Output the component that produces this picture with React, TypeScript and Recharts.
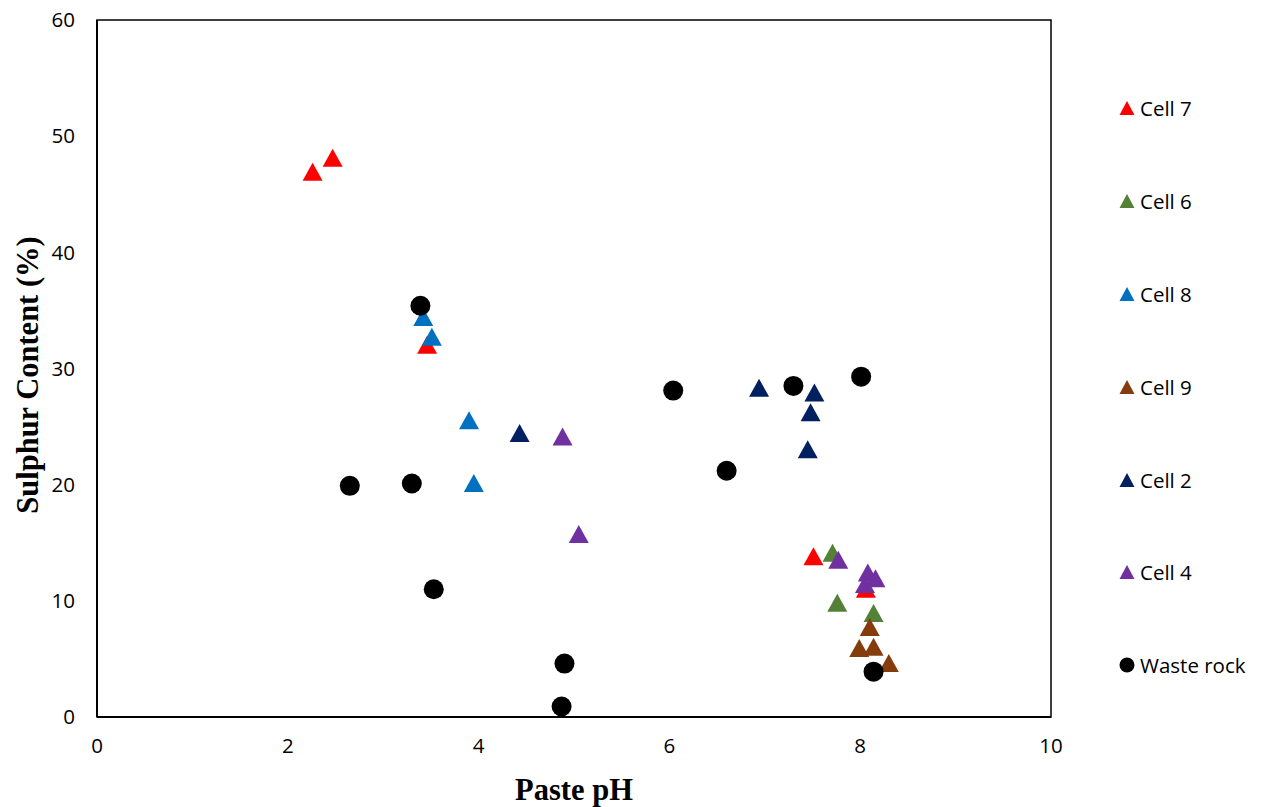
import {
  ScatterChart,
  Scatter,
  XAxis,
  YAxis,
  ReferenceArea,
} from 'recharts';

// Values (Paste pH vs Sulphur Content %)
const cell7 = [
  { x: 2.26, y: 46.9 },
  { x: 2.47, y: 48.1 },
  { x: 3.46, y: 32.0 },
  { x: 7.51, y: 13.8 },
  { x: 8.06, y: 11.0 },
];
const cell6 = [
  { x: 7.71, y: 14.1 },
  { x: 7.76, y: 9.8 },
  { x: 8.14, y: 8.9 },
];
const cell8 = [
  { x: 3.42, y: 34.4 },
  { x: 3.51, y: 32.7 },
  { x: 3.9, y: 25.5 },
  { x: 3.95, y: 20.1 },
];
const cell9 = [
  { x: 8.1, y: 7.7 },
  { x: 7.99, y: 5.9 },
  { x: 8.14, y: 6.0 },
  { x: 8.3, y: 4.6 },
];
const cell2 = [
  { x: 4.43, y: 24.4 },
  { x: 6.94, y: 28.3 },
  { x: 7.52, y: 27.9 },
  { x: 7.48, y: 26.2 },
  { x: 7.45, y: 23.0 },
];
const cell4 = [
  { x: 4.88, y: 24.1 },
  { x: 5.05, y: 15.7 },
  { x: 7.77, y: 13.5 },
  { x: 8.08, y: 12.4 },
  { x: 8.16, y: 11.9 },
  { x: 8.05, y: 11.4 },
];
const wasteRock = [
  { x: 3.39, y: 35.4 },
  { x: 2.65, y: 19.9 },
  { x: 3.3, y: 20.1 },
  { x: 3.53, y: 11.0 },
  { x: 4.9, y: 4.6 },
  { x: 4.87, y: 0.9 },
  { x: 6.04, y: 28.1 },
  { x: 6.6, y: 21.2 },
  { x: 7.3, y: 28.5 },
  { x: 8.01, y: 29.3 },
  { x: 8.14, y: 3.9 },
];

const xTicks = [0, 2, 4, 6, 8, 10];
const yTicks = [0, 10, 20, 30, 40, 50, 60];

const series = [
  { name: 'Cell 7', data: cell7, color: '#FF0000', kind: 'triangle' },
  { name: 'Cell 6', data: cell6, color: '#538135', kind: 'triangle' },
  { name: 'Cell 8', data: cell8, color: '#0070C0', kind: 'triangle' },
  { name: 'Cell 9', data: cell9, color: '#843C0C', kind: 'triangle' },
  { name: 'Cell 2', data: cell2, color: '#002060', kind: 'triangle' },
  { name: 'Cell 4', data: cell4, color: '#7030A0', kind: 'triangle' },
  { name: 'Waste rock', data: wasteRock, color: '#000000', kind: 'circle' },
];

const tickFont = { fontFamily: '"Open Sans", sans-serif', fontSize: 20.5, fill: '#000' };
const titleFont = { fontFamily: '"Liberation Serif", serif', fontSize: 30.5, fontWeight: 700, fill: '#000' };

function makeShape(kind: string, color: string) {
  return (props: any) => {
    const { cx, cy } = props;
    if (cx == null || cy == null) return <g />;
    if (kind === 'circle') {
      return <circle cx={cx} cy={cy} r={10} fill={color} />;
    }
    const pts = `${cx},${cy - 9.5} ${cx - 10},${cy + 8.5} ${cx + 10},${cy + 8.5}`;
    return <polygon points={pts} fill={color} />;
  };
}

function LegendIcon({ kind, color }: { kind: string; color: string }) {
  return (
    <svg width={16} height={16} style={{ display: 'block' }}>
      {kind === 'circle' ? (
        <circle cx={8} cy={8} r={7.5} fill={color} />
      ) : (
        <polygon points="8,1 0.5,15 15.5,15" fill={color} />
      )}
    </svg>
  );
}

export default function App() {
  // cancel the body margin so the svg covers the whole window
  return (
    <div style={{ position: 'relative', width: 1265, height: 807, margin: '-8px 0 0 -8px' }}>
      <ScatterChart
        width={1265}
        height={807}
        margin={{ top: 20, right: 214, bottom: 10, left: 37 }}
      >
        <XAxis
          type="number"
          dataKey="x"
          domain={[0, 10]}
          ticks={xTicks}
          height={80}
          tickSize={0}
          tickMargin={21}
          tickLine={false}
          axisLine={{ stroke: '#000', strokeWidth: 2 }}
          tick={tickFont}
          label={{
            content: () => (
              <text x={574} y={790} textAnchor="middle" dominantBaseline="central" style={titleFont}>
                Paste pH
              </text>
            ),
          }}
        />
        <YAxis
          type="number"
          dataKey="y"
          domain={[0, 60]}
          ticks={yTicks}
          width={60}
          tickSize={0}
          tickMargin={22}
          tickLine={false}
          axisLine={{ stroke: '#000', strokeWidth: 2 }}
          tick={tickFont}
          label={{
            content: () => (
              <text
                x={28}
                y={375}
                transform="rotate(-90 28 375)"
                textAnchor="middle"
                dominantBaseline="central"
                style={titleFont}
              >
                Sulphur Content (%)
              </text>
            ),
          }}
        />
        <ReferenceArea x1={0} x2={10} y1={0} y2={60} fill="none" stroke="#000" strokeWidth={1.5} />
        {series.map((s) => (
          <Scatter
            key={s.name}
            name={s.name}
            data={s.data}
            fill={s.color}
            shape={makeShape(s.kind, s.color)}
            isAnimationActive={false}
          />
        ))}
      </ScatterChart>
      <div style={{ position: 'absolute', left: 1119, top: 62 }}>
        {series.map((s) => (
          <div
            key={s.name}
            style={{ height: 92.8, display: 'flex', alignItems: 'center', gap: 5 }}
          >
            <LegendIcon kind={s.kind} color={s.color} />
            <span style={{ fontFamily: '"Open Sans", sans-serif', fontSize: 20.5, color: '#000' }}>
              {s.name}
            </span>
          </div>
        ))}
      </div>
    </div>
  );
}
